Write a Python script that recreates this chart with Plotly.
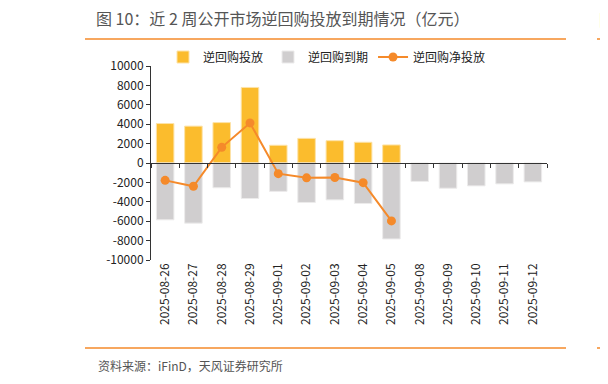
import plotly.graph_objects as go

dates = ["2025-08-26", "2025-08-27", "2025-08-28", "2025-08-29", "2025-09-01",
         "2025-09-02", "2025-09-03", "2025-09-04", "2025-09-05", "2025-09-08",
         "2025-09-09", "2025-09-10", "2025-09-11", "2025-09-12"]
investment = [4070, 3800, 4165, 7790, 1830, 2540, 2300, 2140, 1860, None, None, None, None, None]
maturity = [-5860, -6200, -2550, -3660, -2930, -4070, -3800, -4170, -7830,
            -1900, -2600, -2360, -2150, -1950]
net = [-1790, -2400, 1615, 4130, -1100, -1530, -1500, -2030, -5970, None, None, None, None, None]
y_ticks = [-10000, -8000, -6000, -4000, -2000, 0, 2000, 4000, 6000, 8000, 10000]
y_tick_text = [str(v) for v in y_ticks]

YELLOW = "#FBBC2D"
GRAY = "#D0CECF"
ORANGE = "#F58A2A"
FONT = "Noto Sans CJK SC"
TXT = "#222222"

fig = go.Figure()
fig.add_trace(go.Bar(x=dates, y=investment, name="逆回购投放", marker_color=YELLOW,
                     marker_line=dict(color="#FDE3A8", width=1), width=0.62))
fig.add_trace(go.Bar(x=dates, y=maturity, name="逆回购到期", marker_color=GRAY,
                     marker_line=dict(color="#ECEBEB", width=1), width=0.62))
fig.add_trace(go.Scatter(x=dates, y=net, name="逆回购净投放", mode="lines+markers",
                         line=dict(color=ORANGE, width=2),
                         marker=dict(color=ORANGE, size=9)))
# invisible trace to host the zero-position axis line
n = len(dates)
fig.add_trace(go.Scatter(x=[-0.5, n - 0.5], y=[0, 0], xaxis="x2", mode="none",
                         showlegend=False, hoverinfo="skip"))

# page body has an 8px margin: work in page pixels, subtract offset
OFF = 8
W, H = 608 - OFF, 384 - OFF
plot_l, plot_r, plot_t, plot_b = 151 - OFF, 547 - OFF, 66 - OFF, 260 - OFF
pw, ph = plot_r - plot_l, plot_b - plot_t

def px_x(x):
    return (x - OFF - plot_l) / pw

def px_y(y):
    return (plot_b - (y - OFF)) / ph

fig.update_layout(
    width=W, height=H,
    margin=dict(l=plot_l, r=W - plot_r, t=plot_t, b=H - plot_b, autoexpand=False),
    paper_bgcolor="white", plot_bgcolor="white",
    barmode="relative", bargap=0.38,
    font=dict(family=FONT, size=12, color=TXT),
    title=dict(text="图 10：近 2 周公开市场逆回购投放到期情况（亿元）",
               x=(96 - OFF) / W, xanchor="left", y=1 - (19 - OFF) / H, yanchor="middle",
               font=dict(family=FONT, size=16, color="#555555")),
    legend=dict(orientation="h", x=px_x(327), xanchor="center", y=px_y(57), yanchor="middle",
                font=dict(family=FONT, size=12, color=TXT), traceorder="normal",
                itemwidth=30, bgcolor="rgba(0,0,0,0)"),
    showlegend=True,
    xaxis=dict(type="category", categoryorder="array", categoryarray=dates,
               range=[-0.5, n - 0.5], showline=False, ticks="", tickangle=-90,
               showgrid=False, zeroline=False,
               tickfont=dict(family=FONT, size=12, color=TXT)),
    xaxis2=dict(overlaying="x", anchor="free", position=0.5,
                range=[-0.5, n - 0.5], showline=True, linecolor="#333333", linewidth=1,
                ticks="outside", ticklen=4, tickcolor="#333333",
                tickvals=[i - 0.5 for i in range(n + 1)],
                showticklabels=False, showgrid=False, zeroline=False),
    yaxis=dict(range=[-10000, 10000], tickvals=y_ticks, ticktext=y_tick_text,
               showgrid=False, zeroline=False,
               showline=True, linecolor="#333333", linewidth=1, ticks="outside",
               ticklen=4, tickcolor="#333333",
               tickfont=dict(family=FONT, size=12, color=TXT)),
    shapes=[
        dict(type="line", xref="paper", yref="paper", x0=px_x(85), x1=px_x(566),
             y0=px_y(39), y1=px_y(39), line=dict(color=ORANGE, width=1.5)),
        dict(type="line", xref="paper", yref="paper", x0=px_x(85), x1=px_x(566),
             y0=px_y(348), y1=px_y(348), line=dict(color=ORANGE, width=1.5)),
        dict(type="line", xref="paper", yref="paper", x0=px_x(597), x1=px_x(612),
             y0=px_y(39), y1=px_y(39), line=dict(color=ORANGE, width=1.5)),
        dict(type="line", xref="paper", yref="paper", x0=px_x(597), x1=px_x(612),
             y0=px_y(348), y1=px_y(348), line=dict(color=ORANGE, width=1.5)),
    ],
    annotations=[
        dict(text="资料来源：iFinD，天风证券研究所", xref="paper", yref="paper",
             x=px_x(96), y=px_y(366), xanchor="left", yanchor="middle", showarrow=False,
             font=dict(family=FONT, size=12, color="#555555")),
        dict(text="图", xref="paper", yref="paper",
             x=px_x(597), y=px_y(19), xanchor="left", yanchor="middle", showarrow=False,
             font=dict(family=FONT, size=16, color="#555555")),
        dict(text="资", xref="paper", yref="paper",
             x=px_x(600), y=px_y(366), xanchor="left", yanchor="middle", showarrow=False,
             font=dict(family=FONT, size=12, color="#555555")),
    ],
)

fig.write_html("out.html")
